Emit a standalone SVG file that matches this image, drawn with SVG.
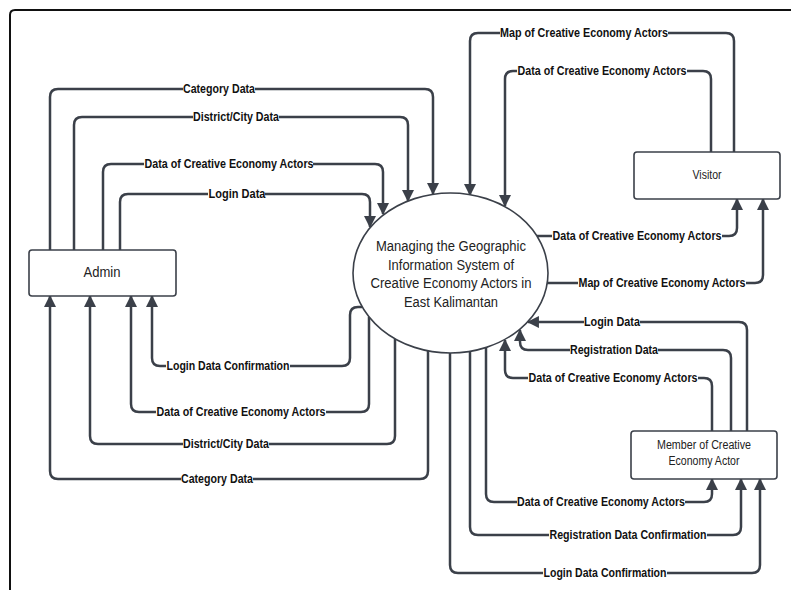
<svg xmlns="http://www.w3.org/2000/svg" width="791" height="590" viewBox="0 0 791 590">
<style>
.frame{fill:none;stroke:#111;stroke-width:2}
.box{fill:#fff;stroke:#3b4049;stroke-width:1.6}
.proc{fill:#fff;stroke:#3b4049;stroke-width:1.6}
.ntext{font-family:"Liberation Sans",Arial,sans-serif;fill:#222;text-anchor:middle}
.conn path{fill:none;stroke:#3b4049;stroke-width:2.5;marker-end:url(#arr)}
.lbg{fill:#fff}
.lbl{font-family:"Liberation Sans",Arial,sans-serif;font-weight:bold;font-size:12px;fill:#111;text-anchor:middle}
</style>
<defs>
<marker id="arr" markerUnits="userSpaceOnUse" markerWidth="12" markerHeight="12" viewBox="0 0 11 11" refX="10" refY="5.5" orient="auto">
<path d="M0,0 L11,5.5 L0,11 z" fill="#3b4049"/>
</marker>
</defs>
<rect width="791" height="590" fill="#fff"/>
<path class="frame" d="M10,590 V15 Q10,10 15,10 H791"/>

<g id="connectors" class="conn">
<path d="M50,250 V97 Q50,89 58,89 H425 Q433,89 433,97 V194"/>
<path d="M74,250 V125 Q74,117 82,117 H400 Q408,117 408,125 V201"/>
<path d="M103,250 V172 Q103,164 111,164 H375 Q383,164 383,172 V214"/>
<path d="M120,250 V202 Q120,194 128,194 H362 Q370,194 370,202 V227"/>
<path d="M362,307 H358 Q350,307 350,315 V358 Q350,366 342,366 H160 Q152,366 152,358 V296"/>
<path d="M369,317 V404 Q369,412 361,412 H139 Q131,412 131,404 V296"/>
<path d="M395,339 V436 Q395,444 387,444 H98 Q90,444 90,436 V296"/>
<path d="M428,351 V471 Q428,479 420,479 H58 Q50,479 50,471 V296"/>
<path d="M450,353 V565 Q450,573 458,573 H752 Q760,573 760,565 V479"/>
<path d="M470,351 V527 Q470,535 478,535 H733 Q741,535 741,527 V479"/>
<path d="M486,347 V494 Q486,502 494,502 H704 Q712,502 712,494 V479"/>
<path d="M747,431 V330 Q747,322 739,322 H528"/>
<path d="M731,431 V358 Q731,350 723,350 H528 Q520,350 520,342 V330"/>
<path d="M712,431 V386 Q712,378 704,378 H513 Q505,378 505,370 V340"/>
<path d="M734,152 V41 Q734,33 726,33 H478 Q470,33 470,41 V195"/>
<path d="M711,152 V79 Q711,71 703,71 H513 Q505,71 505,79 V206"/>
<path d="M537,236 H729 Q737,236 737,228 V199"/>
<path d="M547,283 H755 Q763,283 763,275 V199"/>
</g>

<g id="labels">
<rect class="lbg" x="183" y="83" width="72" height="12"/><text class="lbl" x="219" y="93" textLength="72" lengthAdjust="spacingAndGlyphs">Category Data</text>
<rect class="lbg" x="193" y="111" width="86" height="12"/><text class="lbl" x="236" y="121" textLength="86" lengthAdjust="spacingAndGlyphs">District/City Data</text>
<rect class="lbg" x="144" y="158" width="169" height="12"/><text class="lbl" x="229" y="168" textLength="169" lengthAdjust="spacingAndGlyphs">Data of Creative Economy Actors</text>
<rect class="lbg" x="208" y="188" width="57" height="12"/><text class="lbl" x="237" y="198" textLength="57" lengthAdjust="spacingAndGlyphs">Login Data</text>
<rect class="lbg" x="166" y="360" width="124" height="12"/><text class="lbl" x="228" y="370" textLength="123" lengthAdjust="spacingAndGlyphs">Login Data Confirmation</text>
<rect class="lbg" x="156" y="406" width="170" height="12"/><text class="lbl" x="241" y="416" textLength="169" lengthAdjust="spacingAndGlyphs">Data of Creative Economy Actors</text>
<rect class="lbg" x="183" y="438" width="86" height="12"/><text class="lbl" x="226" y="448" textLength="86" lengthAdjust="spacingAndGlyphs">District/City Data</text>
<rect class="lbg" x="181" y="473" width="72" height="12"/><text class="lbl" x="217" y="483" textLength="72" lengthAdjust="spacingAndGlyphs">Category Data</text>
<rect class="lbg" x="500" y="27" width="168" height="12"/><text class="lbl" x="584" y="37" textLength="168" lengthAdjust="spacingAndGlyphs">Map of Creative Economy Actors</text>
<rect class="lbg" x="517" y="65" width="170" height="12"/><text class="lbl" x="602" y="75" textLength="169" lengthAdjust="spacingAndGlyphs">Data of Creative Economy Actors</text>
<rect class="lbg" x="552" y="230" width="170" height="12"/><text class="lbl" x="637" y="240" textLength="169" lengthAdjust="spacingAndGlyphs">Data of Creative Economy Actors</text>
<rect class="lbg" x="578" y="277" width="168" height="12"/><text class="lbl" x="662" y="287" textLength="167" lengthAdjust="spacingAndGlyphs">Map of Creative Economy Actors</text>
<rect class="lbg" x="584" y="316" width="56" height="12"/><text class="lbl" x="612" y="326" textLength="56" lengthAdjust="spacingAndGlyphs">Login Data</text>
<rect class="lbg" x="570" y="344" width="88" height="12"/><text class="lbl" x="614" y="354" textLength="88" lengthAdjust="spacingAndGlyphs">Registration Data</text>
<rect class="lbg" x="528" y="372" width="170" height="12"/><text class="lbl" x="613" y="382" textLength="169" lengthAdjust="spacingAndGlyphs">Data of Creative Economy Actors</text>
<rect class="lbg" x="517" y="496" width="168" height="12"/><text class="lbl" x="601" y="506" textLength="168" lengthAdjust="spacingAndGlyphs">Data of Creative Economy Actors</text>
<rect class="lbg" x="549" y="529" width="158" height="12"/><text class="lbl" x="628" y="539" textLength="157" lengthAdjust="spacingAndGlyphs">Registration Data Confirmation</text>
<rect class="lbg" x="543" y="567" width="124" height="12"/><text class="lbl" x="605" y="577" textLength="123" lengthAdjust="spacingAndGlyphs">Login Data Confirmation</text>
</g>

<g id="admin">
<rect class="box" x="29" y="250" width="147" height="46" rx="3"/>
<text class="ntext" x="102" y="277" font-size="15" textLength="37" lengthAdjust="spacingAndGlyphs">Admin</text>
</g>
<g id="visitor">
<rect class="box" x="634" y="152" width="146" height="47" rx="3"/>
<text class="ntext" x="707" y="179" font-size="13" textLength="29" lengthAdjust="spacingAndGlyphs">Visitor</text>
</g>
<g id="member">
<rect class="box" x="631" y="431" width="146" height="48" rx="3"/>
<text class="ntext" x="704" y="449" font-size="12.5" textLength="94" lengthAdjust="spacingAndGlyphs">Member of Creative</text>
<text class="ntext" x="704" y="465" font-size="12.5" textLength="71" lengthAdjust="spacingAndGlyphs">Economy Actor</text>
</g>
<g id="process">
<ellipse class="proc" cx="450.5" cy="273" rx="97.5" ry="80"/>
<text class="ntext" x="451" y="251" font-size="15.5" textLength="150" lengthAdjust="spacingAndGlyphs">Managing the Geographic</text>
<text class="ntext" x="451" y="270" font-size="15.5" textLength="126" lengthAdjust="spacingAndGlyphs">Information System of</text>
<text class="ntext" x="451" y="288" font-size="15.5" textLength="161" lengthAdjust="spacingAndGlyphs">Creative Economy Actors in</text>
<text class="ntext" x="451" y="307" font-size="15.5" textLength="94" lengthAdjust="spacingAndGlyphs">East Kalimantan</text>
</g>
</svg>
